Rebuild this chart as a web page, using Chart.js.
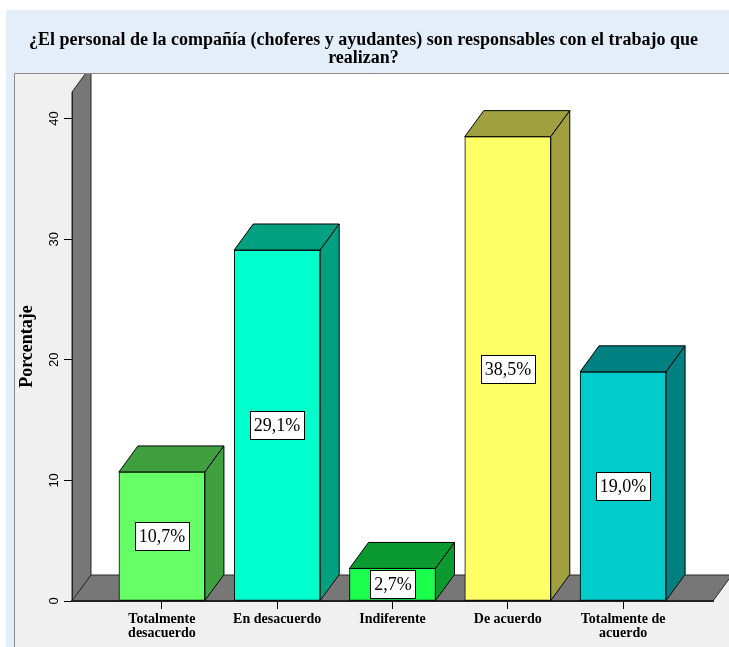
<!DOCTYPE html>
<html>
<head>
<meta charset="utf-8">
<title>Responsabilidad del personal</title>
<script src="https://cdn.jsdelivr.net/npm/chart.js@4/dist/chart.umd.min.js"></script>
<style>
  html, body { margin: 0; padding: 0; background: #fff; }
  canvas { display: block; }
</style>
</head>
<body>
<canvas id="chart" width="729" height="647"></canvas>
<script>
// Survey answers and their share of respondents (%)
const categories = [
  ["Totalmente", "desacuerdo"],
  "En desacuerdo",
  "Indiferente",
  "De acuerdo",
  ["Totalmente de", "acuerdo"],
];
const percentages = [10.7, 29.1, 2.7, 38.5, 19.0];
const yTicks = [0, 10, 20, 30, 40];

// front face / shaded (top + side) face per bar
const frontColors = ["#66ff66", "#00ffcc", "#19ff4c", "#ffff66", "#00cccc"];
const sideColors = ["#40a040", "#00a080", "#0a9a30", "#a0a040", "#008080"];

// 3D depth offset of bars, floor and wall
const DEPTH_X = 19;
const DEPTH_Y = -26;

function poly(ctx, pts, fill, stroke) {
  ctx.beginPath();
  ctx.moveTo(pts[0][0], pts[0][1]);
  for (let i = 1; i < pts.length; i++) ctx.lineTo(pts[i][0], pts[i][1]);
  ctx.closePath();
  ctx.fillStyle = fill;
  ctx.fill();
  ctx.strokeStyle = stroke;
  ctx.lineWidth = 1;
  ctx.stroke();
}

function formatPct(v) {
  return v.toFixed(1).replace(".", ",") + "%";
}

const box3d = {
  id: "box3d",
  beforeDraw(chart) {
    const ctx = chart.ctx;
    const { left, right, top, bottom } = chart.chartArea;
    const W = chart.width;
    const H = chart.height;
    const fx = 14;
    const fy = 73;

    ctx.save();
    ctx.fillStyle = "#ffffff";
    ctx.fillRect(0, 0, W, H);
    ctx.fillStyle = "#e3eef9";
    ctx.fillRect(6, 10, W - 6, H - 10);

    // chart frame
    ctx.fillStyle = "#f0f0f0";
    ctx.fillRect(fx, fy, W - fx, H - fy);
    ctx.strokeStyle = "#8c8c8c";
    ctx.lineWidth = 1;
    ctx.beginPath();
    ctx.moveTo(fx + 0.5, H);
    ctx.lineTo(fx + 0.5, fy + 0.5);
    ctx.lineTo(W, fy + 0.5);
    ctx.stroke();

    ctx.beginPath();
    ctx.rect(fx + 1, fy + 1, W - fx - 1, H - fy - 1);
    ctx.clip();

    // back plane
    ctx.fillStyle = "#ffffff";
    ctx.fillRect(left + DEPTH_X, fy, W, bottom + DEPTH_Y - fy);

    // left wall
    poly(ctx, [
      [left, top],
      [left + DEPTH_X, top + DEPTH_Y],
      [left + DEPTH_X, bottom + DEPTH_Y],
      [left, bottom],
    ], "#777777", "#2a2a2a");

    // floor
    poly(ctx, [
      [left, bottom],
      [right, bottom],
      [right + DEPTH_X, bottom + DEPTH_Y],
      [left + DEPTH_X, bottom + DEPTH_Y],
    ], "#777777", "#2a2a2a");
    ctx.restore();
  },
  afterDatasetsDraw(chart) {
    const ctx = chart.ctx;
    const meta = chart.getDatasetMeta(0);
    ctx.save();
    meta.data.forEach((bar, i) => {
      const x0 = bar.x - bar.width / 2;
      const x1 = bar.x + bar.width / 2;
      const y = bar.y;
      const base = bar.base;
      // top face
      poly(ctx, [
        [x0, y],
        [x1, y],
        [x1 + DEPTH_X, y + DEPTH_Y],
        [x0 + DEPTH_X, y + DEPTH_Y],
      ], sideColors[i], "#000");
      // side face
      poly(ctx, [
        [x1, y],
        [x1 + DEPTH_X, y + DEPTH_Y],
        [x1 + DEPTH_X, base + DEPTH_Y],
        [x1, base],
      ], sideColors[i], "#000");
    });

    // value labels in the middle of the front face
    ctx.font = '18px "Liberation Serif"';
    ctx.textAlign = "center";
    ctx.textBaseline = "middle";
    meta.data.forEach((bar, i) => {
      const txt = formatPct(percentages[i]);
      const w = Math.round(ctx.measureText(txt).width) + 8;
      const h = 28;
      const cx = Math.round(bar.x);
      const cy = Math.round((bar.y + bar.base) / 2);
      const bx = cx - Math.round(w / 2) + 0.5;
      const by = cy - h / 2 + 0.5;
      ctx.fillStyle = "#ffffff";
      ctx.fillRect(bx, by, w, h);
      ctx.strokeStyle = "#000";
      ctx.lineWidth = 1;
      ctx.strokeRect(bx, by, w, h);
      ctx.fillStyle = "#000";
      ctx.fillText(txt, cx, cy + 1);
    });
    ctx.restore();
  },
};

const ctx = document.getElementById("chart");

new Chart(ctx, {
  type: "bar",
  data: {
    datasets: [
      {
        data: percentages.map((v, i) => ({ x: i, y: v })),
        backgroundColor: frontColors,
        borderColor: "#000",
        borderWidth: 1,
        borderSkipped: false,
        barThickness: 86,
      },
    ],
  },
  options: {
    responsive: false,
    animation: false,
    layout: { padding: { left: 14, right: 16, top: 0, bottom: 0 } },
    plugins: {
      legend: { display: false },
      tooltip: { enabled: false },
      title: {
        display: true,
        text: [
          "¿El personal de la compañía (choferes y ayudantes) son responsables con el trabajo que",
          "realizan?",
        ],
        color: "#000",
        font: { family: '"Liberation Serif"', size: 18, weight: "bold", lineHeight: 1.0 },
        padding: { top: 31, bottom: 25 },
      },
    },
    scales: {
      x: {
        type: "linear",
        min: -0.78,
        max: 4.78,
        offset: false,
        afterBuildTicks: (scale) => {
          scale.ticks = categories.map((_, i) => ({ value: i }));
        },
        afterFit: (scale) => {
          scale.height = 46;
        },
        border: { display: true, color: "#222", width: 2 },
        grid: { offset: false, drawOnChartArea: false, drawTicks: true, tickLength: 8, color: "#000" },
        ticks: {
          color: "#000",
          padding: 3,
          maxRotation: 0,
          autoSkip: false,
          font: { family: '"Liberation Serif"', size: 14, weight: "bold", lineHeight: 1.0 },
          callback: (value) => categories[value],
        },
      },
      y: {
        min: 0,
        max: 42.2,
        afterBuildTicks: (scale) => {
          scale.ticks = yTicks.map((v) => ({ value: v }));
        },
        afterFit: (scale) => {
          scale.width = 58;
        },
        border: { display: true, color: "#222", width: 1 },
        grid: { drawOnChartArea: false, drawTicks: true, tickLength: 8, color: "#000" },
        ticks: {
          color: "#000",
          padding: 2,
          minRotation: 90,
          maxRotation: 90,
          crossAlign: "center",
          font: { family: '"Liberation Sans"', size: 13 },
        },
        title: {
          display: true,
          text: "Porcentaje",
          color: "#000",
          padding: { top: 3, bottom: 0 },
          font: { family: '"Liberation Serif"', size: 18, weight: "bold" },
        },
      },
    },
  },
  plugins: [box3d],
});
</script>
</body>
</html>
